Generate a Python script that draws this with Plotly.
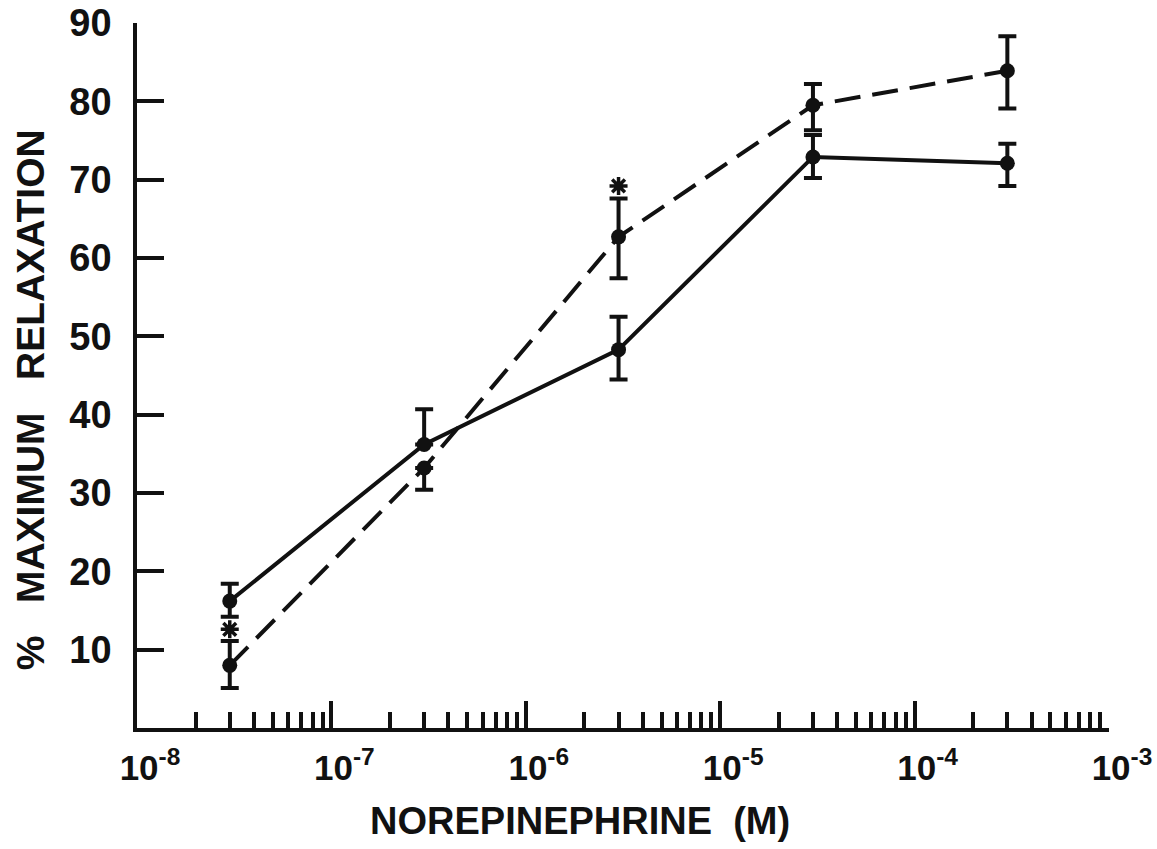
import plotly.graph_objects as go

# ---- data ----
conc = [3e-8, 3e-7, 3e-6, 3e-5, 3e-4]

solid_mean = [16.2, 36.2, 48.3, 72.9, 72.1]
solid_err_plus = [2.2, 4.5, 4.2, 2.8, 2.5]
solid_err_minus = [2.0, 0.0, 3.8, 2.7, 2.9]

dashed_mean = [8.0, 33.2, 62.7, 79.5, 83.9]
dashed_err_plus = [3.1, 0.0, 4.9, 2.7, 4.4]
dashed_err_minus = [2.9, 2.8, 5.3, 3.2, 4.8]

star_x = [3e-8, 3e-6]
star_y = [12.6, 69.2]

x_tick_vals = [1e-8, 1e-7, 1e-6, 1e-5, 1e-4, 1e-3]
x_tick_text = ["10<sup>-8</sup>", "10<sup>-7</sup>", "10<sup>-6</sup>",
               "10<sup>-5</sup>", "10<sup>-4</sup>", "10<sup>-3</sup>"]
y_tick_vals = [10, 20, 30, 40, 50, 60, 70, 80, 90]

minor_vals = [m * d for d in x_tick_vals[:-1] for m in range(2, 10)]

FONT = "Liberation Sans, Arial, sans-serif"
INK = "#111111"

fig = go.Figure()

fig.add_trace(go.Scatter(
    x=conc, y=solid_mean, mode="lines+markers",
    line=dict(color=INK, width=4),
    marker=dict(color=INK, size=15),
    error_y=dict(type="data", symmetric=False, array=solid_err_plus,
                 arrayminus=solid_err_minus, color=INK, thickness=4, width=9),
    cliponaxis=False, showlegend=False,
))

fig.add_trace(go.Scatter(
    x=conc, y=dashed_mean, mode="lines+markers",
    line=dict(color=INK, width=4, dash="26px,12px"),
    marker=dict(color=INK, size=15),
    error_y=dict(type="data", symmetric=False, array=dashed_err_plus,
                 arrayminus=dashed_err_minus, color=INK, thickness=4, width=9),
    cliponaxis=False, showlegend=False,
))

fig.add_trace(go.Scatter(
    x=star_x, y=star_y, mode="markers",
    marker=dict(symbol="asterisk-open", size=15, color=INK,
                line=dict(color=INK, width=3.5)),
    cliponaxis=False, showlegend=False,
))

fig.update_xaxes(
    type="log", range=[-8, -3], automargin=False,
    tickmode="array", tickvals=x_tick_vals, ticktext=x_tick_text,
    ticks="inside", ticklen=27, tickwidth=3.5, tickcolor=INK,
    minor=dict(tickmode="array", tickvals=minor_vals, ticks="inside",
               ticklen=16, tickwidth=3.5, tickcolor=INK, showgrid=False),
    showline=True, linewidth=3.5, linecolor=INK,
    showgrid=False, zeroline=False,
    tickfont=dict(family=FONT, size=35, color=INK, weight="bold"),
    ticklabelshift=13, ticklabelstandoff=6, ticklabeloverflow="allow",
)

fig.update_yaxes(
    range=[0, 90], automargin=False,
    tickmode="array", tickvals=y_tick_vals,
    ticks="inside", ticklen=27, tickwidth=3.5, tickcolor=INK,
    showline=True, linewidth=3.5, linecolor=INK,
    showgrid=False, zeroline=False,
    tickfont=dict(family=FONT, size=38, color=INK, weight="bold"),
    ticklabelstandoff=14,
)

fig.add_annotation(
    text="NOREPINEPHRINE\u00a0\u00a0(M)", xref="paper", yref="paper",
    x=0.456, y=-0.132, showarrow=False, xanchor="center", yanchor="middle",
    font=dict(family=FONT, size=38, color=INK, weight="bold"),
)
fig.add_annotation(
    text="%\u00a0\u00a0\u00a0MAXIMUM\u00a0\u00a0\u00a0RELAXATION", xref="paper", yref="paper",
    x=-0.110, y=0.465, showarrow=False, textangle=-90,
    xanchor="center", yanchor="middle",
    font=dict(family=FONT, size=39, color=INK, weight="bold"),
)

fig.update_layout(
    width=1157, height=849, autosize=False,
    margin=dict(l=137, r=48, t=23, b=121),
    paper_bgcolor="white", plot_bgcolor="white",
)

fig.write_html("out.html")
